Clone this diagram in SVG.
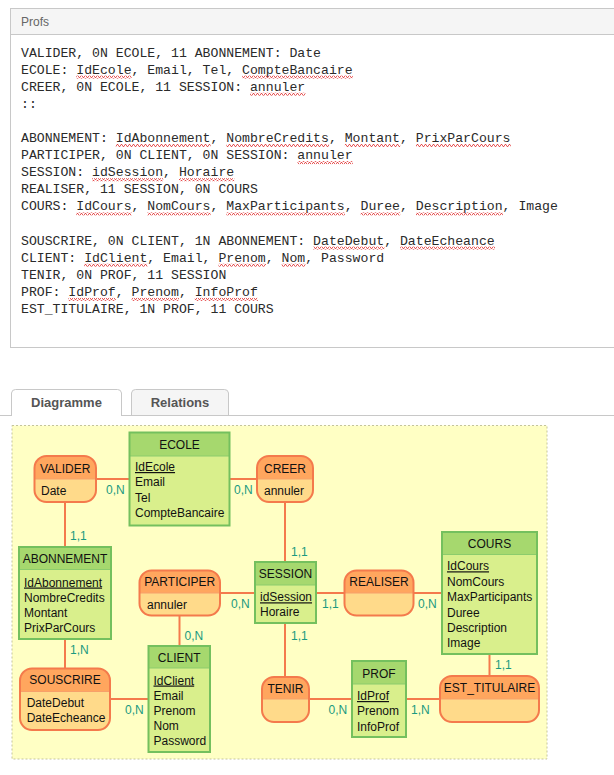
<svg xmlns="http://www.w3.org/2000/svg" width="614" height="775" viewBox="0 0 614 775">
<style>
.mono{font-family:"Liberation Mono","DejaVu Sans Mono",monospace;font-size:13.17px;fill:#2a2a2a}
.t{font-family:"Liberation Sans",Arial,sans-serif;font-size:12px;fill:#111}
.tc{font-family:"Liberation Sans",Arial,sans-serif;font-size:12px;fill:#111;text-anchor:middle}
.id{text-decoration:underline}
.card{font-family:"Liberation Sans",Arial,sans-serif;font-size:12px;fill:#1a9a80}
.tab{font-family:"Liberation Sans",Arial,sans-serif;font-size:13px;font-weight:bold;fill:#555;text-anchor:middle}
.ebody{fill:#d9ef8c}
.ehead{fill:#a6d86e}
.eout{fill:none;stroke:#74c05e;stroke-width:2}
.ediv{stroke:#8ccc6c;stroke-width:1}
.rbody{fill:#ffda8a}
.rhead{fill:#ffa65e}
.rout{fill:none;stroke:#f47a4c;stroke-width:2}
.rdiv{stroke:#f7a06a;stroke-width:1}
.link{stroke:#f47a4c;stroke-width:2;fill:none}
.sq{fill:url(#squiggle)}
</style>
<defs>
<pattern id="squiggle" x="0" y="0" width="4" height="3" patternUnits="userSpaceOnUse">
<polyline points="0,2.5 1,0.5 2,0.5 3,2.5 4,2.5" fill="none" stroke="#e03030" stroke-width="0.8"/>
</pattern>
</defs>
<rect width="614" height="775" fill="#ffffff"/>

<!-- Text panel -->
<g id="panel">
<rect x="10.5" y="8.5" width="620" height="339" fill="#ffffff" stroke="#c8c8c8"/>
<rect x="10.5" y="8.5" width="620" height="26" fill="#f5f5f5" stroke="#c8c8c8"/>
<text x="21" y="26" style="font-family:'Liberation Sans',Arial,sans-serif;font-size:12px;fill:#666">Profs</text>
<g class="mono">
<text x="21" y="56.5">VALIDER, 0N ECOLE, 11 ABONNEMENT: Date</text>
<text x="21" y="73.6">ECOLE: IdEcole, Email, Tel, CompteBancaire</text>
<text x="21" y="90.7">CREER, 0N ECOLE, 11 SESSION: annuler</text>
<text x="21" y="107.8">::</text>
<text x="21" y="142">ABONNEMENT: IdAbonnement, NombreCredits, Montant, PrixParCours</text>
<text x="21" y="159.1">PARTICIPER, 0N CLIENT, 0N SESSION: annuler</text>
<text x="21" y="176.2">SESSION: idSession, Horaire</text>
<text x="21" y="193.3">REALISER, 11 SESSION, 0N COURS</text>
<text x="21" y="210.4">COURS: IdCours, NomCours, MaxParticipants, Duree, Description, Image</text>
<text x="21" y="244.6">SOUSCRIRE, 0N CLIENT, 1N ABONNEMENT: DateDebut, DateEcheance</text>
<text x="21" y="261.7">CLIENT: IdClient, Email, Prenom, Nom, Password</text>
<text x="21" y="278.8">TENIR, 0N PROF, 11 SESSION</text>
<text x="21" y="295.9">PROF: IdProf, Prenom, InfoProf</text>
<text x="21" y="313">EST_TITULAIRE, 1N PROF, 11 COURS</text>
</g>
<g id="spellcheck">
<rect class="sq" x="76.3" y="75.6" width="55.3" height="3"/>
<rect class="sq" x="242.2" y="75.6" width="110.6" height="3"/>
<rect class="sq" x="250.1" y="92.7" width="55.3" height="3"/>
<rect class="sq" x="115.8" y="144" width="94.8" height="3"/>
<rect class="sq" x="226.4" y="144" width="102.7" height="3"/>
<rect class="sq" x="344.9" y="144" width="55.3" height="3"/>
<rect class="sq" x="416" y="144" width="94.8" height="3"/>
<rect class="sq" x="297.5" y="161.1" width="55.3" height="3"/>
<rect class="sq" x="92.1" y="178.2" width="71.1" height="3"/>
<rect class="sq" x="179" y="178.2" width="55.3" height="3"/>
<rect class="sq" x="76.3" y="212.4" width="55.3" height="3"/>
<rect class="sq" x="147.4" y="212.4" width="63.2" height="3"/>
<rect class="sq" x="226.4" y="212.4" width="118.5" height="3"/>
<rect class="sq" x="360.7" y="212.4" width="39.5" height="3"/>
<rect class="sq" x="416" y="212.4" width="86.9" height="3"/>
<rect class="sq" x="313.3" y="246.6" width="71.1" height="3"/>
<rect class="sq" x="400.2" y="246.6" width="94.8" height="3"/>
<rect class="sq" x="84.2" y="263.7" width="63.2" height="3"/>
<rect class="sq" x="218.5" y="263.7" width="47.4" height="3"/>
<rect class="sq" x="281.7" y="263.7" width="23.7" height="3"/>
<rect class="sq" x="68.4" y="297.9" width="47.4" height="3"/>
<rect class="sq" x="131.6" y="297.9" width="47.4" height="3"/>
<rect class="sq" x="194.8" y="297.9" width="63.2" height="3"/>
</g>
</g>

<!-- Tabs -->
<g id="tabs">
<line x1="0" y1="415.5" x2="614" y2="415.5" stroke="#c8c8c8"/>
<path d="M11.5,416 V393 A4,4 0 0 1 15.5,389.5 H117.5 A4,4 0 0 1 121.5,393 V416" fill="#ffffff" stroke="#c8c8c8"/>
<path d="M131.5,415 V393 A4,4 0 0 1 135.5,389.5 H224.5 A4,4 0 0 1 228.5,393 V415" fill="#f5f5f5" stroke="#c8c8c8"/>
<text class="tab" x="66.5" y="407">Diagramme</text>
<text class="tab" x="180" y="407">Relations</text>
</g>

<!-- Diagram background -->
<rect x="12" y="425.5" width="535" height="333.5" fill="#ffffc4" stroke="#c4c49c" stroke-dasharray="2,2"/>

<!-- Connectors -->
<g id="connectors">
<line class="link" x1="96" y1="479" x2="129.5" y2="479"/>
<line class="link" x1="229.5" y1="479" x2="257" y2="479"/>
<line class="link" x1="65" y1="502" x2="65" y2="547"/>
<line class="link" x1="285" y1="502" x2="285" y2="562"/>
<line class="link" x1="65" y1="639" x2="65" y2="668.5"/>
<line class="link" x1="110" y1="699" x2="148.5" y2="699"/>
<line class="link" x1="179.5" y1="615.5" x2="179.5" y2="646"/>
<line class="link" x1="220" y1="593" x2="255" y2="593"/>
<line class="link" x1="316" y1="593" x2="344.5" y2="593"/>
<line class="link" x1="413.5" y1="593" x2="442" y2="593"/>
<line class="link" x1="285" y1="623" x2="285" y2="677"/>
<line class="link" x1="309" y1="699" x2="352" y2="699"/>
<line class="link" x1="406" y1="699" x2="440" y2="699"/>
<line class="link" x1="489.5" y1="654" x2="489.5" y2="676"/>
</g>

<!-- Cardinalities -->
<g id="cardinalities" class="card">
<text x="106" y="494.3">0,N</text>
<text x="234" y="494.3">0,N</text>
<text x="70" y="540">1,1</text>
<text x="291" y="556">1,1</text>
<text x="70" y="654.3">1,N</text>
<text x="231" y="608.3">0,N</text>
<text x="322" y="608.3">1,1</text>
<text x="418" y="608.3">0,N</text>
<text x="184.5" y="639.6">0,N</text>
<text x="291" y="639.6">1,1</text>
<text x="125" y="714.3">0,N</text>
<text x="328.5" y="714.3">0,N</text>
<text x="411" y="714.3">1,N</text>
<text x="495" y="669.3">1,1</text>
</g>

<!-- Entities -->
<g id="ECOLE">
<rect class="ebody" x="129.5" y="432.5" width="100" height="93"/>
<rect class="ehead" x="129.5" y="432.5" width="100" height="23.5"/>
<line class="ediv" x1="129.5" y1="456" x2="229.5" y2="456"/>
<rect class="eout" x="129.5" y="432.5" width="100" height="93"/>
<text class="tc" x="179.5" y="448.5">ECOLE</text>
<text class="t id" x="135" y="471">IdEcole</text>
<text class="t" x="135" y="486.4">Email</text>
<text class="t" x="135" y="501.8">Tel</text>
<text class="t" x="135" y="517.2">CompteBancaire</text>
</g>

<g id="ABONNEMENT">
<rect class="ebody" x="19" y="547" width="92" height="92"/>
<rect class="ehead" x="19" y="547" width="92" height="22.5"/>
<line class="ediv" x1="19" y1="569.5" x2="111" y2="569.5"/>
<rect class="eout" x="19" y="547" width="92" height="92"/>
<text class="tc" x="65" y="563.3">ABONNEMENT</text>
<text class="t id" x="24" y="586.5">IdAbonnement</text>
<text class="t" x="24" y="601.5">NombreCredits</text>
<text class="t" x="24" y="616.5">Montant</text>
<text class="t" x="24" y="631.5">PrixParCours</text>
</g>

<g id="SESSION">
<rect class="ebody" x="255" y="562" width="61" height="61"/>
<rect class="ehead" x="255" y="562" width="61" height="23"/>
<line class="ediv" x1="255" y1="585" x2="316" y2="585"/>
<rect class="eout" x="255" y="562" width="61" height="61"/>
<text class="tc" x="285.5" y="578">SESSION</text>
<text class="t id" x="260" y="601.3">idSession</text>
<text class="t" x="260" y="616.3">Horaire</text>
</g>

<g id="CLIENT">
<rect class="ebody" x="148.5" y="646" width="61.5" height="106"/>
<rect class="ehead" x="148.5" y="646" width="61.5" height="22"/>
<line class="ediv" x1="148.5" y1="668" x2="210" y2="668"/>
<rect class="eout" x="148.5" y="646" width="61.5" height="106"/>
<text class="tc" x="179.2" y="662">CLIENT</text>
<text class="t id" x="153.5" y="684.5">IdClient</text>
<text class="t" x="153.5" y="700">Email</text>
<text class="t" x="153.5" y="715">Prenom</text>
<text class="t" x="153.5" y="730">Nom</text>
<text class="t" x="153.5" y="745">Password</text>
</g>

<g id="COURS">
<rect class="ebody" x="442" y="532" width="95" height="122"/>
<rect class="ehead" x="442" y="532" width="95" height="22.5"/>
<line class="ediv" x1="442" y1="554.5" x2="537" y2="554.5"/>
<rect class="eout" x="442" y="532" width="95" height="122"/>
<text class="tc" x="489.5" y="548.3">COURS</text>
<text class="t id" x="447" y="570.3">IdCours</text>
<text class="t" x="447" y="585.7">NomCours</text>
<text class="t" x="447" y="601.1">MaxParticipants</text>
<text class="t" x="447" y="616.5">Duree</text>
<text class="t" x="447" y="631.9">Description</text>
<text class="t" x="447" y="647.3">Image</text>
</g>

<g id="PROF">
<rect class="ebody" x="352" y="661" width="54" height="76"/>
<rect class="ehead" x="352" y="661" width="54" height="23"/>
<line class="ediv" x1="352" y1="684" x2="406" y2="684"/>
<rect class="eout" x="352" y="661" width="54" height="76"/>
<text class="tc" x="379" y="677.5">PROF</text>
<text class="t id" x="357" y="700">IdProf</text>
<text class="t" x="357" y="715.3">Prenom</text>
<text class="t" x="357" y="730.5">InfoProf</text>
</g>

<!-- Associations -->
<g id="VALIDER">
<rect class="rbody" x="34.5" y="456" width="61.5" height="46" rx="12"/>
<path class="rhead" d="M34.5,479 V468 A12,12 0 0 1 46.5,456 H84 A12,12 0 0 1 96,468 V479 Z"/>
<line class="rdiv" x1="34.5" y1="479" x2="96" y2="479"/>
<rect class="rout" x="34.5" y="456" width="61.5" height="46" rx="12"/>
<text class="tc" x="65.2" y="472.5">VALIDER</text>
<text class="t" x="41" y="495">Date</text>
</g>

<g id="CREER">
<rect class="rbody" x="257" y="456" width="56" height="46" rx="12"/>
<path class="rhead" d="M257,479 V468 A12,12 0 0 1 269,456 H301 A12,12 0 0 1 313,468 V479 Z"/>
<line class="rdiv" x1="257" y1="479" x2="313" y2="479"/>
<rect class="rout" x="257" y="456" width="56" height="46" rx="12"/>
<text class="tc" x="285" y="472.5">CREER</text>
<text class="t" x="264" y="495">annuler</text>
</g>

<g id="PARTICIPER">
<rect class="rbody" x="139.5" y="570.5" width="80.5" height="45" rx="12"/>
<path class="rhead" d="M139.5,593 V582.5 A12,12 0 0 1 151.5,570.5 H208 A12,12 0 0 1 220,582.5 V593 Z"/>
<line class="rdiv" x1="139.5" y1="593" x2="220" y2="593"/>
<rect class="rout" x="139.5" y="570.5" width="80.5" height="45" rx="12"/>
<text class="tc" x="179.7" y="586.3">PARTICIPER</text>
<text class="t" x="147" y="609.3">annuler</text>
</g>

<g id="REALISER">
<rect class="rbody" x="344.5" y="570.5" width="69" height="45" rx="12"/>
<path class="rhead" d="M344.5,593 V582.5 A12,12 0 0 1 356.5,570.5 H401.5 A12,12 0 0 1 413.5,582.5 V593 Z"/>
<line class="rdiv" x1="344.5" y1="593" x2="413.5" y2="593"/>
<rect class="rout" x="344.5" y="570.5" width="69" height="45" rx="12"/>
<text class="tc" x="379" y="586.3">REALISER</text>
</g>

<g id="SOUSCRIRE">
<rect class="rbody" x="20" y="668.5" width="90" height="61.5" rx="12"/>
<path class="rhead" d="M20,691.5 V680.5 A12,12 0 0 1 32,668.5 H98 A12,12 0 0 1 110,680.5 V691.5 Z"/>
<line class="rdiv" x1="20" y1="691.5" x2="110" y2="691.5"/>
<rect class="rout" x="20" y="668.5" width="90" height="61.5" rx="12"/>
<text class="tc" x="65" y="684.3">SOUSCRIRE</text>
<text class="t" x="26.7" y="707.3">DateDebut</text>
<text class="t" x="26.7" y="722.3">DateEcheance</text>
</g>

<g id="TENIR">
<rect class="rbody" x="262" y="677" width="47" height="45" rx="12"/>
<path class="rhead" d="M262,699 V689 A12,12 0 0 1 274,677 H297 A12,12 0 0 1 309,689 V699 Z"/>
<line class="rdiv" x1="262" y1="699" x2="309" y2="699"/>
<rect class="rout" x="262" y="677" width="47" height="45" rx="12"/>
<text class="tc" x="285.5" y="692.5">TENIR</text>
</g>

<g id="EST_TITULAIRE">
<rect class="rbody" x="440" y="676" width="99" height="46" rx="12"/>
<path class="rhead" d="M440,699 V688 A12,12 0 0 1 452,676 H527 A12,12 0 0 1 539,688 V699 Z"/>
<line class="rdiv" x1="440" y1="699" x2="539" y2="699"/>
<rect class="rout" x="440" y="676" width="99" height="46" rx="12"/>
<text class="tc" x="489.5" y="692">EST_TITULAIRE</text>
</g>
</svg>
